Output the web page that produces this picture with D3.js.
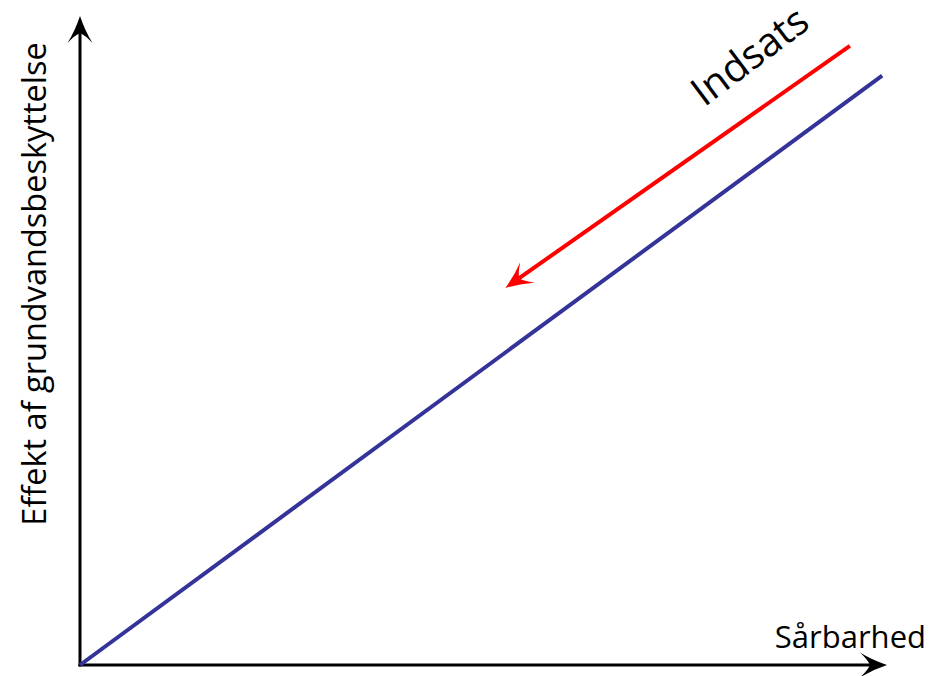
<!DOCTYPE html>
<html>
<head>
<meta charset="utf-8">
<script src="https://cdn.jsdelivr.net/npm/d3@7"></script>
<style>
  body { margin: 0; background: #fff; }
  text { font-family: "Open Sans", sans-serif; fill: #000; }
</style>
</head>
<body>
<svg id="chart" width="931" height="676"></svg>
<script>
// axis end points in data units (0..10 both ways)
var axisMax = 10;
// blue line: effect grows with vulnerability
var bluePoints = [[0, 0], [9.94, 9.08]];
// red arrow: less effort moves down the line
var redPoints = [[9.54, 9.54], [5.27, 5.81]];
var xLabel = "Sårbarhed";
var yLabel = "Effekt af grundvandsbeskyttelse";
var arrowLabel = "Indsats";

var svg = d3.select("#chart");

var x = d3.scaleLinear().domain([0, axisMax]).range([80, 887]);
var y = d3.scaleLinear().domain([0, axisMax]).range([665, 16]);

var headLen = 17; // tip to notch

function addMarker(id, col) {
  svg.append("defs").append("marker")
    .attr("id", id)
    .attr("markerUnits", "userSpaceOnUse")
    .attr("viewBox", "-12 -14 32 28")
    .attr("markerWidth", 32)
    .attr("markerHeight", 28)
    .attr("refX", 0)
    .attr("refY", 0)
    .attr("orient", "auto")
    .append("path")
    .attr("d", "M" + headLen + ",0 Q2,-5 -10,-12.5 Q-2,-5 0,0 Q-2,5 -10,12.5 Q2,5 " + headLen + ",0 Z")
    .style("fill", col);
}
addMarker("headBlack", "#000");
addMarker("headRed", "#ff0000");

// shorten a segment so the marker tip lands on the end point
function shorten(p0, p1, d) {
  var dx = p1[0] - p0[0], dy = p1[1] - p0[1];
  var l = Math.sqrt(dx * dx + dy * dy);
  return [p1[0] - dx / l * d, p1[1] - dy / l * d];
}

// axes
var o = [x(0), y(0)];
var yEnd = shorten(o, [x(0), y(axisMax)], headLen);
var xEnd = shorten(o, [x(axisMax), y(0)], headLen);
svg.append("line")
  .attr("x1", o[0]).attr("y1", o[1] + 1.5)
  .attr("x2", yEnd[0]).attr("y2", yEnd[1])
  .style("stroke", "#000").style("stroke-width", 3)
  .attr("marker-end", "url(#headBlack)");
svg.append("line")
  .attr("x1", o[0] - 1.5).attr("y1", o[1])
  .attr("x2", xEnd[0]).attr("y2", xEnd[1])
  .style("stroke", "#000").style("stroke-width", 3)
  .attr("marker-end", "url(#headBlack)");

var line = d3.line()
  .x(function(d) { return x(d[0]); })
  .y(function(d) { return y(d[1]); });

svg.append("path")
  .datum(bluePoints)
  .attr("d", line)
  .style("fill", "none")
  .style("stroke", "#333399")
  .style("stroke-width", 4);

var redPx = redPoints.map(function(d) { return [x(d[0]), y(d[1])]; });
var redEnd = shorten(redPx[0], redPx[1], headLen);
svg.append("path")
  .attr("d", d3.line()([redPx[0], redEnd]))
  .style("fill", "none")
  .style("stroke", "#ff0000")
  .style("stroke-width", 4)
  .attr("marker-end", "url(#headRed)");

// labels
svg.append("text")
  .attr("x", 926)
  .attr("y", 648)
  .style("text-anchor", "end")
  .style("font-size", "31px")
  .text(xLabel);

svg.append("text")
  .attr("transform", "translate(46,284) rotate(-90)")
  .style("text-anchor", "middle")
  .style("font-size", "32.5px")
  .text(yLabel);

svg.append("text")
  .attr("transform", "translate(758,67) rotate(-37)")
  .style("text-anchor", "middle")
  .style("font-size", "40px")
  .text(arrowLabel);
</script>
</body>
</html>
